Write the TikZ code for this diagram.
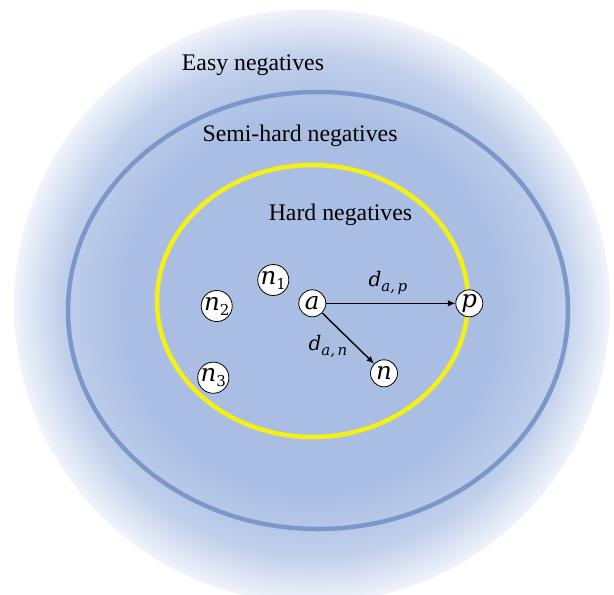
\documentclass[tikz,border=0pt]{standalone}
\usepackage{fontspec}
\setmainfont{Liberation Serif}
\newfontfamily\mf{DejaVu Serif}
\usetikzlibrary{arrows.meta}
\definecolor{fillblue}{RGB}{170,190,228}
\definecolor{midblue}{RGB}{192,207,235}
\definecolor{edgeblue}{RGB}{240,244,251}
\definecolor{ringblue}{RGB}{124,152,203}
\definecolor{hardyellow}{RGB}{245,240,20}
\pgfdeclareradialshading{fadeout}{\pgfpoint{0bp}{0bp}}{color(0bp)=(fillblue); color(15.8bp)=(fillblue); color(21bp)=(midblue); color(25bp)=(edgeblue); color(50bp)=(edgeblue)}
\newcommand\mi[1]{{\mf\itshape #1}}
\newcommand\subup[1]{\raisebox{-5pt}{\fontsize{15}{15}\selectfont\mf #1}}
\newcommand\subit[1]{\raisebox{-5pt}{\fontsize{15}{15}\selectfont\mf\itshape #1}}
\tikzset{
  pt/.style={circle,draw=black,fill=white,line width=0.8pt,minimum size=27pt,inner sep=0pt,font=\fontsize{24.5}{24.5}\selectfont},
  region/.style={font=\fontsize{23.8}{24}\selectfont,inner sep=0pt,anchor=base},
  dist/.style={font=\fontsize{20}{20}\selectfont,inner sep=0pt},
  arr/.style={-{Latex[length=7.5pt,width=6.5pt]},line width=1.4pt,black}
}
\begin{document}
\begin{tikzpicture}[x=1pt,y=-1pt]
\useasboundingbox (0,0) rectangle (614,595);
\begin{scope}
\clip (0,0) rectangle (614,595);
\shade[shading=fadeout] (312,306) ellipse[x radius=298,y radius=297];
\end{scope}
\draw[ringblue,line width=4.5pt] (318,310.5) ellipse[x radius=250,y radius=218.5];
\draw[hardyellow,line width=4.5pt] (312.5,301) ellipse[x radius=155.5,y radius=136];
\node[region] (easy) at (253,70.7) {Easy negatives};
\node[region] (semi) at (300,141.7) {Semi-hard negatives};
\node[region] (hard) at (340.5,220) {Hard negatives};
\node[pt] (a) at (312.3,303.3) {\mi{a}};
\node[pt] (p) at (469.3,303.3) {\mi{p}};
\node[pt] (n) at (384,373.3) {\mi{n}};
\node[pt] (n1) at (273.3,280) {\mi{n}\subup{1}};
\node[pt] (n2) at (216.7,306) {\mi{n}\subup{2}};
\node[pt] (n3) at (213.3,377.7) {\mi{n}\subup{3}};
\draw[arr] (a) -- (p);
\draw[arr] (a) -- (n);
\node[dist] (dap) at (388,283) {\mi{d}\subit{a,\,p}};
\node[dist] (dan) at (328,346) {\mi{d}\subit{a,\,n}};
\end{tikzpicture}
\end{document}
